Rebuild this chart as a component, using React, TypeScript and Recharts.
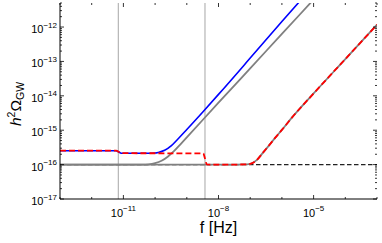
import React from 'react';
import { ComposedChart, Line, XAxis, YAxis, ReferenceLine } from 'recharts';

const W = 382;
const H = 243;
const PLOT_L = 60;
const PLOT_R = 377;
const PLOT_T = 3;
const PLOT_B = 199;
const FONT = '"Liberation Sans", Arial, sans-serif';

// axis ranges and ticks
const fDomain = [1e-13, 1e-3];
const omegaDomain = [1e-17, 5e-12];
const xMajorExp = [-11, -8, -5];
const xDecades = [-13, -12, -11, -10, -9, -8, -7, -6, -5, -4, -3];
const yMajorExp = [-17, -16, -15, -14, -13, -12];

// vertical markers
const vLines = [6.9e-12, 3.75e-9];

// blue: full spectrum, first model
const fBlue = [1e-13, 5.9e-12, 7.2e-12, 8.5e-12, 6.3e-11, 1e-10, 1.26e-10, 2e-10, 3.2e-10, 5e-10, 1e-9, 3.2e-9, 1e-8, 1e-7, 1e-6, 1e-5];
const omegaBlue = [2.54e-16, 2.54e-16, 2.32e-16, 2.15e-16, 2.15e-16, 2.18e-16, 2.26e-16, 2.6e-16, 3.5e-16, 5.3e-16, 1.05e-15, 3.4e-15, 1.1e-14, 1.25e-13, 1.45e-12, 1.6e-11];

// red dashed: full spectrum, second model
const fRed = [1e-13, 5.9e-12, 7.2e-12, 8.5e-12, 3.3e-9, 3.75e-9, 4.3e-9, 1e-8, 6.3e-8, 1e-7, 1.6e-7, 2.5e-7, 4e-7, 6.3e-7, 1e-6, 2e-6, 1e-5, 1e-4, 1e-3];
const omegaRed = [2.54e-16, 2.54e-16, 2.32e-16, 2.15e-16, 2.12e-16, 1.5e-16, 1.01e-16, 1e-16, 1.01e-16, 1.05e-16, 1.35e-16, 2.2e-16, 3.7e-16, 6.2e-16, 1.02e-15, 2.24e-15, 1.17e-14, 1.17e-13, 1.17e-12];

// gray: individual contributions
const fGrayA = [1e-13, 4e-11, 6.3e-11, 1e-10, 1.6e-10, 2.5e-10, 4e-10, 6.3e-10, 1e-9, 1e-8, 1e-7, 1e-6, 1e-5];
const omegaGrayA = [1e-16, 1e-16, 1.02e-16, 1.1e-16, 1.29e-16, 1.7e-16, 2.5e-16, 3.9e-16, 6.2e-16, 6.3e-15, 6.3e-14, 6.3e-13, 6.3e-12];
const fGrayB = [1e-13, 1e-8, 6.3e-8, 1e-7, 1.6e-7, 2.5e-7, 4e-7, 6.3e-7, 1e-6, 2e-6, 1e-5, 1e-4, 1e-3];
const omegaGrayB = [1e-16, 1e-16, 1.01e-16, 1.05e-16, 1.35e-16, 2.2e-16, 3.7e-16, 6.2e-16, 1.02e-15, 2.24e-15, 1.17e-14, 1.17e-13, 1.17e-12];

// noise floor
const fFloor = [1e-13, 1e-3];
const omegaFloor = [1e-16, 1e-16];

const toData = (fs: number[], vs: number[]) => fs.map((f, i) => ({ f, omega: vs[i] }));

const xTicks = xDecades.map((e) => Math.pow(10, e));
const yTicks: number[] = [];
yMajorExp.forEach((e) => {
  for (let k = 1; k <= 9; k++) {
    const v = k * Math.pow(10, e);
    if (v <= omegaDomain[1]) yTicks.push(v);
  }
});

const expOf = (v: number) => Math.round(Math.log10(v));
const isMajorY = (v: number) => Math.abs(Math.log10(v) - expOf(v)) < 1e-6;

const XTick = (props: any) => {
  const { x, payload } = props;
  const e = expOf(payload.value);
  const major = xMajorExp.includes(e);
  const len = major ? 4 : 2;
  return (
    <g>
      <line x1={x} x2={x} y1={PLOT_B} y2={PLOT_B - len} stroke="#000" strokeWidth={0.8} />
      <line x1={x} x2={x} y1={PLOT_T} y2={PLOT_T + len} stroke="#000" strokeWidth={0.8} />
      {major && (
        <text x={x} y={PLOT_B + 18} textAnchor="middle" fontSize={11} fontFamily={FONT} fill="#000">
          10<tspan dy={-6} fontSize={8}>{'\u2212' + Math.abs(e)}</tspan>
        </text>
      )}
    </g>
  );
};

const YTick = (props: any) => {
  const { y, payload } = props;
  const major = isMajorY(payload.value);
  const len = major ? 4 : 2;
  const e = expOf(payload.value);
  return (
    <g>
      <line x1={PLOT_L} x2={PLOT_L + len} y1={y} y2={y} stroke="#000" strokeWidth={0.8} />
      <line x1={PLOT_R} x2={PLOT_R - len} y1={y} y2={y} stroke="#000" strokeWidth={0.8} />
      {major && (
        <text x={PLOT_L - 3} y={y + 6} textAnchor="end" fontSize={11} fontFamily={FONT} fill="#000">
          10<tspan dy={-5.5} fontSize={8}>{'\u2212' + Math.abs(e)}</tspan>
        </text>
      )}
    </g>
  );
};

if (typeof document !== 'undefined') document.body.style.margin = '0';

export default function App() {
  return (
    <div style={{ position: 'relative', width: W, height: H, background: '#fff' }}>
      <ComposedChart width={W} height={H} margin={{ top: PLOT_T, right: W - PLOT_R, left: 0, bottom: 0 }}>
        <XAxis
          dataKey="f"
          type="number"
          scale="log"
          domain={fDomain}
          allowDataOverflow
          ticks={xTicks}
          interval={0}
          tick={XTick}
          tickLine={false}
          tickSize={0}
          tickMargin={0}
          height={H - PLOT_B}
          axisLine={{ stroke: '#000', strokeWidth: 1 }}
        />
        <XAxis xAxisId="top" orientation="top" type="number" scale="log" domain={fDomain} height={0} tick={false} tickLine={false} axisLine={{ stroke: '#000', strokeWidth: 1 }} />
        <YAxis
          type="number"
          scale="log"
          domain={omegaDomain}
          allowDataOverflow
          ticks={yTicks}
          interval={0}
          tick={YTick}
          tickLine={false}
          tickSize={0}
          tickMargin={0}
          width={PLOT_L}
          axisLine={{ stroke: '#000', strokeWidth: 1 }}
        />
        <YAxis yAxisId="right" orientation="right" type="number" scale="log" domain={omegaDomain} width={0} tick={false} tickLine={false} axisLine={{ stroke: '#000', strokeWidth: 1 }} />
        {vLines.map((v) => (
          <ReferenceLine key={v} x={v} stroke="#a6a6a6" strokeWidth={1} />
        ))}
        <Line data={toData(fFloor, omegaFloor)} dataKey="omega" type="linear" stroke="#222" strokeWidth={1.2} strokeDasharray="4.5 2.5" dot={false} isAnimationActive={false} />
        <Line data={toData(fGrayA, omegaGrayA)} dataKey="omega" type="monotone" stroke="#808080" strokeWidth={1.8} dot={false} isAnimationActive={false} />
        <Line data={toData(fGrayB, omegaGrayB)} dataKey="omega" type="monotone" stroke="#808080" strokeWidth={1.8} dot={false} isAnimationActive={false} />
        <Line data={toData(fBlue, omegaBlue)} dataKey="omega" type="monotone" stroke="#0000ff" strokeWidth={1.6} dot={false} isAnimationActive={false} />
        <Line data={toData(fRed, omegaRed)} dataKey="omega" type="monotone" stroke="#ff0000" strokeWidth={1.8} strokeDasharray="6 3" dot={false} isAnimationActive={false} />
      </ComposedChart>
      <svg width={W} height={H} style={{ position: 'absolute', left: 0, top: 0, pointerEvents: 'none' }}>
        <text transform="translate(21,104) rotate(-90)" textAnchor="middle" fontSize={15.5} fontFamily={FONT} fill="#000">
          <tspan fontStyle="italic">h</tspan>
          <tspan dy={-6} fontSize={10.5}>2</tspan>
          <tspan dy={6}>Ω</tspan>
          <tspan dy={3} fontSize={10.5}>GW</tspan>
        </text>
        <text x={(PLOT_L + PLOT_R) / 2} y={233} textAnchor="middle" fontSize={16} fontFamily={FONT} fill="#000">
          f [Hz]
        </text>
      </svg>
    </div>
  );
}
